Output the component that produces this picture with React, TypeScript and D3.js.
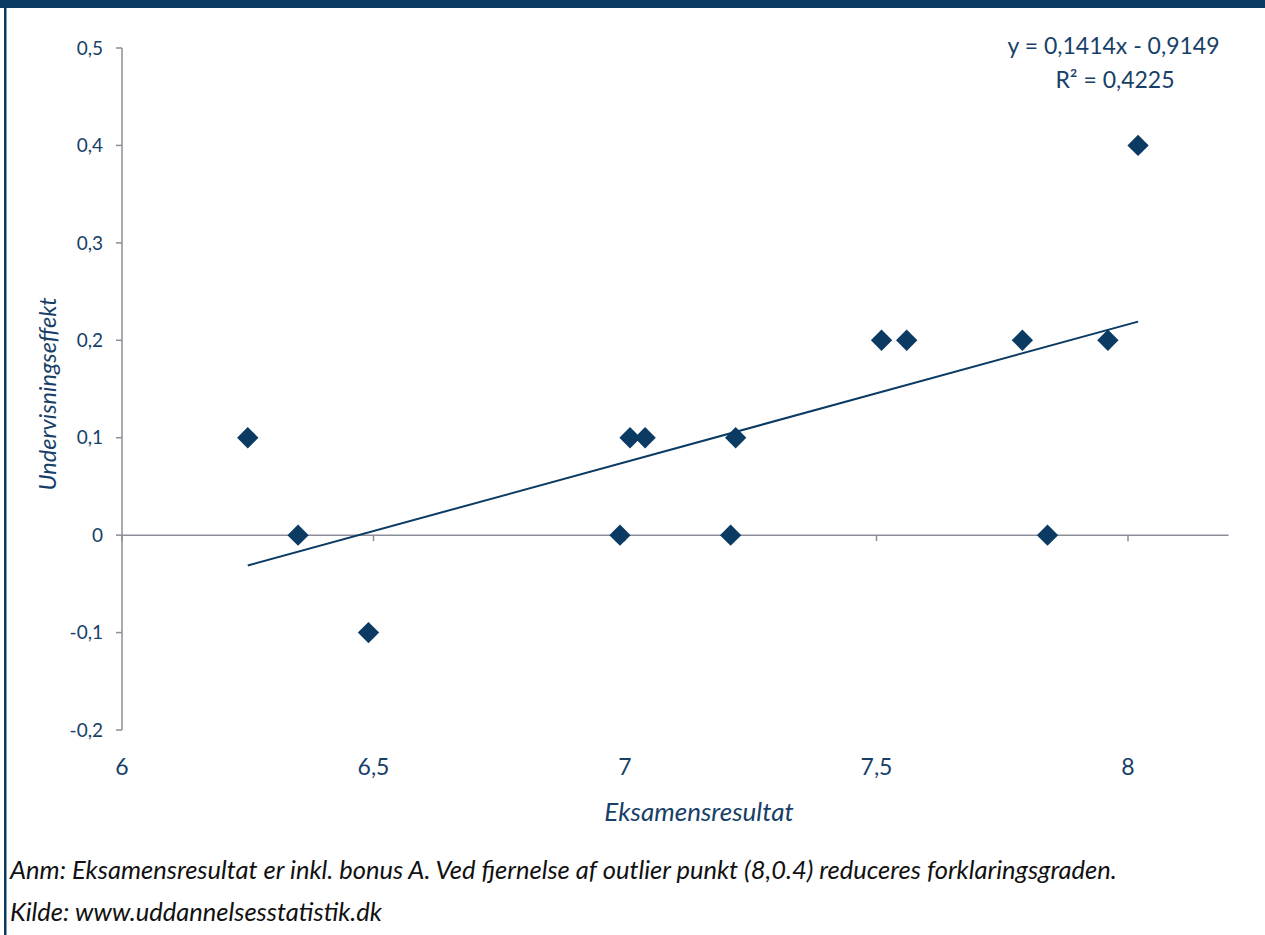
import React from "react";
import * as d3 from "d3";

const examResults = [6.25, 6.35, 6.49, 6.99, 7.01, 7.04, 7.21, 7.22, 7.51, 7.56, 7.79, 7.84, 7.96, 8.02];
const teachingEffect = [0.1, 0, -0.1, 0, 0.1, 0.1, 0, 0.1, 0.2, 0.2, 0.2, 0, 0.2, 0.4];
const xTicks = [6, 6.5, 7, 7.5, 8];
const yTicks = [-0.2, -0.1, 0, 0.1, 0.2, 0.3, 0.4, 0.5];
const slope = 0.1414;
const intercept = -0.9149;
const equationText = "y = 0,1414x - 0,9149";
const r2Text = "R² = 0,4225";
const notes = [
  "Anm: Eksamensresultat er inkl. bonus A. Ved fjernelse af outlier punkt (8,0.4) reduceres forklaringsgraden.",
  "Kilde: www.uddannelsesstatistik.dk",
];

const W = 1265;
const H = 935;
const NAVY = "#0b3a63";
const TEXT = "#173f68";
const AXIS = "#8b8e96";
const FONT = "Lato, 'Open Sans', sans-serif";

const fmt = (v: number) => {
  const s = String(Math.round(v * 10) / 10);
  return s.replace(".", ",");
};

export default function App() {
  const x = d3.scaleLinear().domain([6, 8.2]).range([122, 1228.6]);
  const y = d3.scaleLinear().domain([-0.2, 0.5]).range([730, 48]);
  const x0 = d3.min(examResults)!;
  const x1 = d3.max(examResults)!;
  const line = d3.line<number>().x((d) => x(d)).y((d) => y(slope * d + intercept));
  const diamond = d3.symbol().type(d3.symbolDiamond2).size(290)();

  return (
    <div style={{ position: "absolute", left: 0, top: 0, width: W, height: H, background: "#fff" }}>
      <svg width={W} height={H} style={{ display: "block", fontFamily: FONT }}>
        <rect x={0} y={0} width={W} height={H} fill="#fff" />
        <rect x={0} y={0} width={W} height={8} fill={NAVY} />
        <rect x={4} y={0} width={2.5} height={H} fill={NAVY} />

        {/* y axis */}
        <line x1={122} x2={122} y1={y(0.5)} y2={y(-0.2)} stroke={AXIS} strokeWidth={1.5} />
        {yTicks.map((t) => (
          <g key={"yt" + t}>
            <line x1={116} x2={122} y1={y(t)} y2={y(t)} stroke={AXIS} strokeWidth={1.5} />
            <text x={103} y={y(t)} dy="0.35em" textAnchor="end" fontSize={19} fill={TEXT}>
              {fmt(t)}
            </text>
          </g>
        ))}

        {/* x axis at y=0 */}
        <line x1={x(6)} x2={x(8.2)} y1={y(0)} y2={y(0)} stroke={AXIS} strokeWidth={1.5} />
        {xTicks.map((t) => (
          <g key={"xt" + t}>
            <line x1={x(t)} x2={x(t)} y1={y(0)} y2={y(0) + 6} stroke={AXIS} strokeWidth={1.5} />
            <text x={x(t)} y={767} dy="0.35em" textAnchor="middle" fontSize={23} fill={TEXT}>
              {fmt(t)}
            </text>
          </g>
        ))}

        {/* trendline */}
        <path d={line([x0, x1]) || ""} fill="none" stroke={NAVY} strokeWidth={2} />

        {/* points */}
        {examResults.map((v, i) => (
          <path key={"p" + i} d={diamond || ""} transform={`translate(${x(v)},${y(teachingEffect[i])})`} fill={NAVY} />
        ))}

        {/* equation */}
        <text x={1113.5} y={46} dy="0.35em" textAnchor="middle" fontSize={23} fill={TEXT}>
          {equationText}
        </text>
        <text x={1115} y={80} dy="0.35em" textAnchor="middle" fontSize={23} fill={TEXT}>
          {r2Text}
        </text>

        {/* axis titles */}
        <text
          transform={`translate(48, ${y(0.145)}) rotate(-90)`}
          dy="0.35em"
          textAnchor="middle"
          fontSize={23.5}
          fontStyle="italic"
          fill={TEXT}
        >
          Undervisningseffekt
        </text>
        <text x={699} y={812} dy="0.35em" textAnchor="middle" fontSize={26} fontStyle="italic" fill={TEXT}>
          Eksamensresultat
        </text>

        {/* notes */}
        {notes.map((n, i) => (
          <text key={"n" + i} x={10} y={870 + i * 42} dy="0.35em" fontSize={25.5} fontStyle="italic" fill="#111">
            {n}
          </text>
        ))}
      </svg>
    </div>
  );
}
